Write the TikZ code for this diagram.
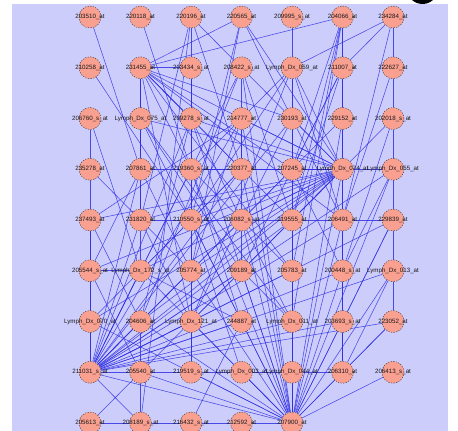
\documentclass[tikz,border=0pt]{standalone}
\usepackage{fontspec}
\setmainfont{Liberation Sans}
\usetikzlibrary{backgrounds}
\definecolor{lavender}{RGB}{205,205,252}
\definecolor{salmon}{RGB}{250,160,145}
\definecolor{linkblue}{RGB}{50,50,228}
\begin{document}
\begin{tikzpicture}[x=1pt, y=-1pt,
    gene/.style={circle, minimum size=22pt, inner sep=0pt, fill=salmon, draw=black!80, line width=0.4pt, dash pattern=on 1.3pt off 1.3pt},
    tag/.style={font=\fontsize{6.2}{6.5}\selectfont, text=black!90, inner sep=0pt},
    link/.style={draw=linkblue, line width=0.55pt, opacity=0.85}]
\useasboundingbox (0,0) rectangle (458,431);
\begin{scope}
\clip (0,0) rectangle (458,431);
% nodes, row by row
\foreach \t [count=\c from 0] in {203510\_at, 220118\_at, 220196\_at, 220565\_at, 209995\_s\_at, 204066\_at, 234284\_at}
  \node[gene, label={[tag]center:\t}] (n0\c) at ({90+50.5*\c}, 17) {};
\foreach \t [count=\c from 0] in {210258\_at, 231455\_at, 203434\_s\_at, 208422\_s\_at, Lymph\_Dx\_059\_at, 211007\_at, 222627\_at}
  \node[gene, label={[tag]center:\t}] (n1\c) at ({90+50.5*\c}, 67.75) {};
\foreach \t [count=\c from 0] in {206760\_s\_at, Lymph\_Dx\_075\_at, 209278\_s\_at, 214777\_at, 230193\_at, 229152\_at, 202018\_s\_at}
  \node[gene, label={[tag]center:\t}] (n2\c) at ({90+50.5*\c}, 118.5) {};
\foreach \t [count=\c from 0] in {235278\_at, 207861\_at, 219360\_s\_at, 220377\_at, 207245\_at, Lymph\_Dx\_074\_at, Lymph\_Dx\_055\_at}
  \node[gene, label={[tag]center:\t}] (n3\c) at ({90+50.5*\c}, 169.25) {};
\foreach \t [count=\c from 0] in {237493\_at, 231820\_at, 210550\_s\_at, 206082\_s\_at, 219555\_at, 206491\_at, 229839\_at}
  \node[gene, label={[tag]center:\t}] (n4\c) at ({90+50.5*\c}, 220) {};
\foreach \t [count=\c from 0] in {205544\_s\_at, Lymph\_Dx\_172\_s\_at, 205774\_at, 209189\_at, 205783\_at, 200448\_s\_at, Lymph\_Dx\_013\_at}
  \node[gene, label={[tag]center:\t}] (n5\c) at ({90+50.5*\c}, 270.75) {};
\foreach \t [count=\c from 0] in {Lymph\_Dx\_070\_at, 204606\_at, Lymph\_Dx\_121\_at, 244887\_at, Lymph\_Dx\_011\_at, 203693\_s\_at, 223052\_at}
  \node[gene, label={[tag]center:\t}] (n6\c) at ({90+50.5*\c}, 321.5) {};
\foreach \t [count=\c from 0] in {211031\_s\_at, 205540\_at, 219519\_s\_at, Lymph\_Dx\_003\_at, Lymph\_Dx\_044\_at, 206310\_at, 206413\_s\_at}
  \node[gene, label={[tag]center:\t}] (n7\c) at ({90+50.5*\c}, 372.25) {};
\foreach \t [count=\c from 0] in {205613\_at, 208189\_s\_at, 216432\_s\_at, 212592\_at, 207900\_at}
  \node[gene, label={[tag]center:\t}] (n8\c) at ({90+50.5*\c}, 423) {};
\begin{pgfonlayer}{background}
\fill[lavender] (12,4) rectangle (448,431);
\fill[black] (422.5,-11.75) circle (15.75);
% links
\foreach \a/\b in {00/31, 01/32, 02/41, 02/81, 02/12, 02/13, 02/33,
    03/11, 03/42, 03/52, 03/24, 03/35, 04/14,
    05/11, 05/15, 05/44, 05/54, 05/64, 05/34, 05/25,
    06/15, 06/14, 06/26, 06/45,
    10/42, 11/12, 11/21, 11/31, 11/41, 11/51, 11/22, 11/32, 11/33, 11/35,
    11/34, 11/44, 11/45, 11/24, 11/54, 11/62,
    12/22, 12/52, 12/72, 13/35, 13/44, 13/61, 13/53,
    14/24, 14/32, 14/42, 14/35, 14/45, 14/62,
    15/25, 15/35, 15/34, 15/53, 15/44, 15/65, 16/45,
    20/30, 20/51, 21/31, 21/42, 21/53, 21/35, 21/64,
    22/32, 22/43, 22/35, 22/61, 23/33, 23/35, 23/40, 23/52,
    24/34, 24/35, 24/45, 24/62, 25/35, 25/55, 25/43, 26/35, 26/55, 26/46,
    34/35, 35/36, 35/31, 35/32, 35/33, 35/40, 35/41, 35/42, 35/43, 35/44,
    35/50, 35/51, 35/52, 35/53, 35/60, 35/61, 35/62, 35/70, 35/71, 35/84,
    30/40, 30/52, 31/50, 31/52, 32/42, 32/54, 32/63, 33/51, 33/60,
    34/44, 34/55, 36/55,
    40/50, 40/61, 41/42, 41/70, 41/62, 42/43, 42/52, 42/73, 42/84, 42/63,
    43/44, 43/70, 43/64, 44/45, 44/54, 44/84, 45/46, 45/55, 45/70, 45/75,
    46/56, 46/65,
    50/60, 50/51, 50/71, 51/70, 51/63, 51/84, 52/70, 52/84, 52/62,
    53/70, 53/84, 53/64, 54/64, 54/84, 54/70, 55/65, 55/84, 55/70, 55/75,
    56/66, 56/75, 56/84,
    60/70, 60/84, 61/70, 61/84, 61/81, 62/70, 62/84, 62/72, 63/70, 63/84,
    63/82, 64/74, 64/84, 64/70, 65/75, 65/84, 65/70, 66/84, 66/70, 66/75,
    70/71, 71/72, 72/73, 73/74, 74/75, 70/84, 70/81, 71/84, 71/80, 72/84,
    73/84, 74/84, 75/84, 76/84, 80/81, 81/82, 82/83, 83/84,
    70/40, 70/31, 70/32, 70/22, 70/33, 70/34, 70/44, 70/46, 70/36, 70/56,
    70/24, 70/23, 70/13,
    84/34, 84/43, 84/45, 84/25, 84/24, 84/33, 84/13, 84/23, 84/32, 84/22,
    84/46, 84/36, 84/14}
  \draw[link] (n\a) -- (n\b);
\end{pgfonlayer}
\end{scope}
\end{tikzpicture}
\end{document}
